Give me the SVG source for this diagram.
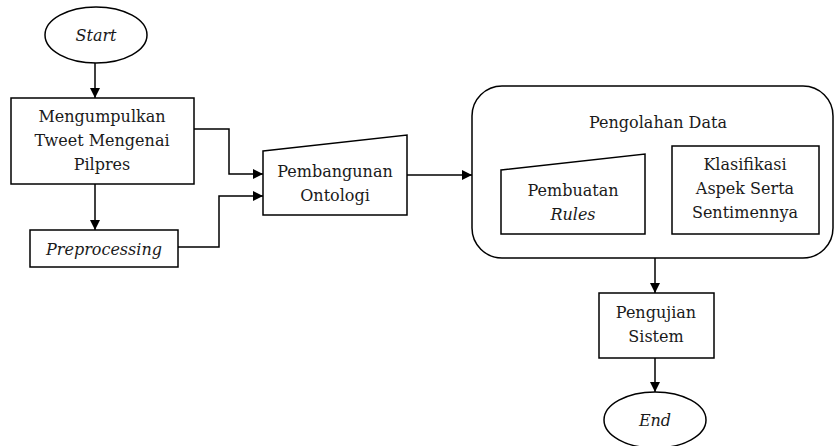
<svg xmlns="http://www.w3.org/2000/svg" width="834" height="446" viewBox="0 0 834 446">
<style>
.s{fill:#fff;stroke:#000;stroke-width:1.5}
.c{fill:none;stroke:#000;stroke-width:1.5}
text{font-family:'DejaVu Serif',serif;font-size:16px;fill:#1a1a1a;text-anchor:middle}
.i{font-style:italic}
</style>
<defs>
<marker id="a" viewBox="0 0 10 10" refX="10" refY="5" markerWidth="10" markerHeight="10" markerUnits="userSpaceOnUse" orient="auto"><path d="M0,0L10,5L0,10z" fill="#000"/></marker>
</defs>
<rect width="834" height="446" fill="#fff"/>
<g id="connectors">
<path class="c" d="M95,63V98" marker-end="url(#a)"/>
<path class="c" d="M95,184V230" marker-end="url(#a)"/>
<path class="c" d="M194,129H229V174H263" marker-end="url(#a)"/>
<path class="c" d="M178,247H219V196H263" marker-end="url(#a)"/>
<path class="c" d="M407,175H472" marker-end="url(#a)"/>
<path class="c" d="M645,196H672" marker-end="url(#a)"/>
<path class="c" d="M655,258V293" marker-end="url(#a)"/>
<path class="c" d="M655,358V392" marker-end="url(#a)"/>
</g>
<g id="start"><ellipse class="s" cx="96" cy="35" rx="51" ry="28"/><text class="i" x="96" y="41">Start</text></g>
<g id="mengumpulkan"><rect class="s" x="11" y="98" width="183" height="86"/><text x="102" y="122">Mengumpulkan</text><text x="102" y="146">Tweet Mengenai</text><text x="102" y="170">Pilpres</text></g>
<g id="preprocessing"><rect class="s" x="30" y="230" width="148" height="37"/><text class="i" x="104" y="255">Preprocessing</text></g>
<g id="pembangunan"><path class="s" d="M263,151L407,135V215H263z"/><text x="335" y="177">Pembangunan</text><text x="335" y="201">Ontologi</text></g>
<g id="pengolahan"><rect class="s" x="472" y="86" width="361" height="172" rx="30"/><text x="658" y="128">Pengolahan Data</text></g>
<g id="pembuatan"><path class="s" d="M501,170L645,154V234H501z"/><text x="573" y="196">Pembuatan</text><text class="i" x="573" y="220">Rules</text></g>
<g id="klasifikasi"><rect class="s" x="672" y="146" width="147" height="88"/><text x="745" y="170">Klasifikasi</text><text x="745" y="194">Aspek Serta</text><text x="745" y="218">Sentimennya</text></g>
<g id="pengujian"><rect class="s" x="599" y="293" width="115" height="65"/><text x="656" y="318">Pengujian</text><text x="656" y="342">Sistem</text></g>
<g id="end"><ellipse class="s" cx="655" cy="420" rx="51" ry="28"/><text class="i" x="655" y="426">End</text></g>
</svg>
